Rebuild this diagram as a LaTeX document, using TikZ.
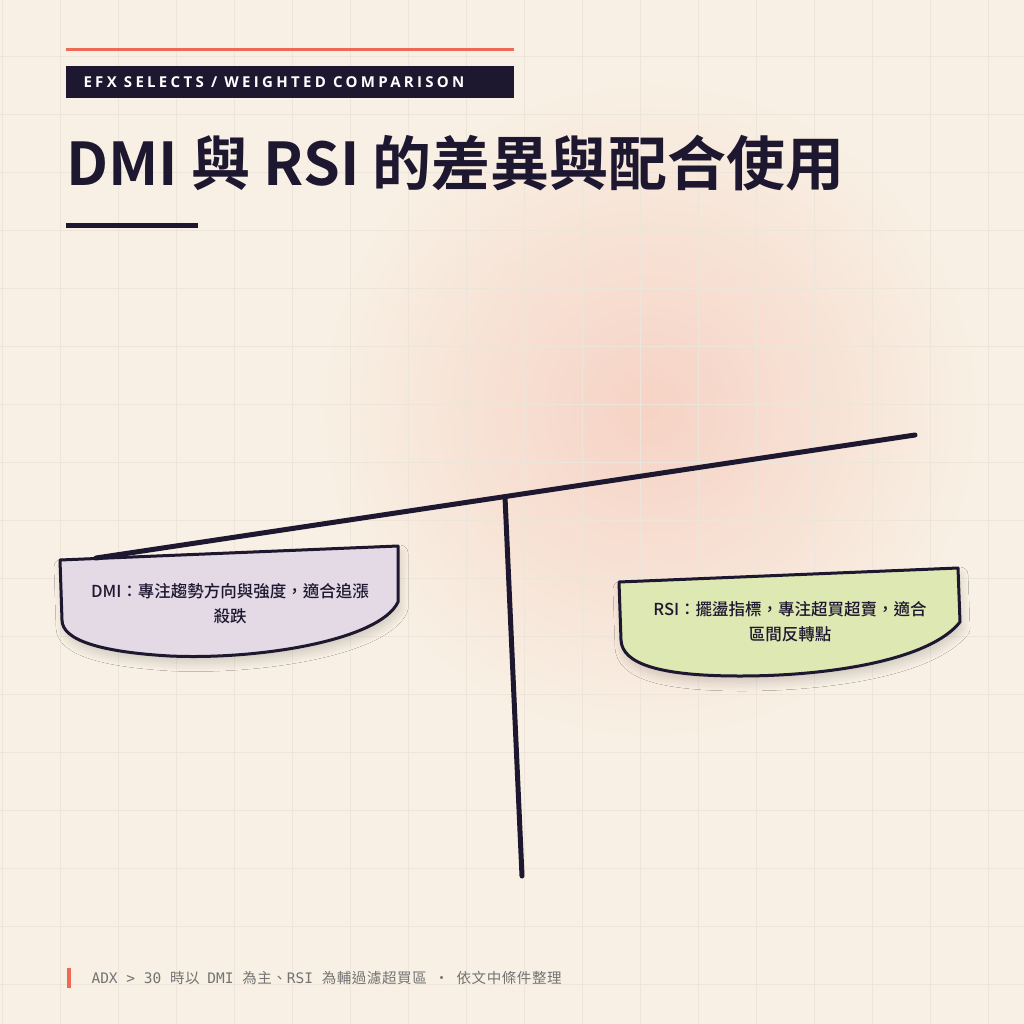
\documentclass[tikz,border=0pt]{standalone}
\usepackage{fontspec}
\setmainfont{Noto Sans CJK TC}
\newfontfamily\cjk{Noto Sans CJK TC}[LetterSpace=4]
\newfontfamily\cjkm{Noto Sans CJK TC Medium}
\newfontfamily\cjkb{Noto Sans CJK TC}[BoldFont={* Bold}]
\newfontfamily\mono{DejaVu Sans Mono}
\newfontfamily\hdr{Open Sans}[LetterSpace=22]
\usetikzlibrary{shadows.blur}
\definecolor{bg}{HTML}{F8F0E4}
\definecolor{ink}{HTML}{1E1730}
\definecolor{accent}{HTML}{EE6A55}
\definecolor{lav}{HTML}{E3DAE6}
\definecolor{lime}{HTML}{DEE8B2}
\definecolor{gridc}{HTML}{EDE5D9}
\tikzset{
  beam/.style={ink,line width=5pt,line cap=round},
  pan/.style={draw=ink,line width=3pt,line join=round,blur shadow={shadow blur steps=10,shadow blur radius=8pt,shadow xshift=2pt,shadow yshift=-7pt,shadow opacity=15}},
  pantext/.style={align=center,font=\cjkm\fontsize{16.5}{25}\selectfont,text=ink},
}
\begin{document}
\begin{tikzpicture}[x=1pt,y=-1pt]
\useasboundingbox (0,0) rectangle (1024,1024);
\fill[bg] (0,0) rectangle (1024,1024);
\shade[inner color=accent!22!bg,outer color=bg] (650,410) circle (330);
\foreach \i in {0,...,18}{
  \draw[gridc,line width=0.8pt] (2+58*\i,0) -- (2+58*\i,1024);
  \draw[gridc,line width=0.8pt] (0,-2+58*\i) -- (1024,-2+58*\i);
}
% header
\draw[accent,line width=3pt] (66,50) -- (514,50);
\fill[ink] (66,66) rectangle (514,98);
\node[anchor=west,text=white,font=\hdr\fontsize{15}{15}\selectfont] (tag) at (80,82) {\textbf{EFX SELECTS / WEIGHTED COMPARISON}};
\node[anchor=base west,inner sep=0,text=ink,font=\cjkb\bfseries\fontsize{59}{59}\selectfont] (title) at (66,186) {DMI 與 RSI 的差異與配合使用};
\draw[ink,line width=5pt] (66,226) -- (198,226);
% pans
\path[pan,fill=lav] (60,560) -- (398,546) -- (398,602) .. controls (380,640) and (260,660) .. (170,656) .. controls (100,652) and (62,640) .. (62,620) -- cycle;
\path[pan,fill=lime] (619,582) -- (958,568) -- (960,622) .. controls (930,660) and (830,676) .. (740,676) .. controls (660,676) and (622,664) .. (621,640) -- cycle;
% beam
\coordinate (bl) at (96,558);
\coordinate (br) at (915,435);
\coordinate (pv) at (505,497);
\coordinate (ft) at (522,876);
\draw[beam] (bl) -- (br);
\draw[beam] (pv) -- (ft);
\node[pantext] (dmi) at (230,604) {DMI：專注趨勢方向與強度，適合追漲\\殺跌};
\node[pantext] (rsi) at (790,622) {RSI：擺盪指標，專注超買超賣，適合\\區間反轉點};
% footer
\fill[accent] (67,968) rectangle (71,988);
\node[anchor=west,text=black!55,font=\fontsize{14.5}{14}\selectfont] (foot) at (88,978) {\mono ADX > 30 \cjk 時以\ \ \mono DMI \cjk 為主、\mono RSI \cjk 為輔過濾超買區\ \ ・\ \ 依文中條件整理};
\end{tikzpicture}
\end{document}
